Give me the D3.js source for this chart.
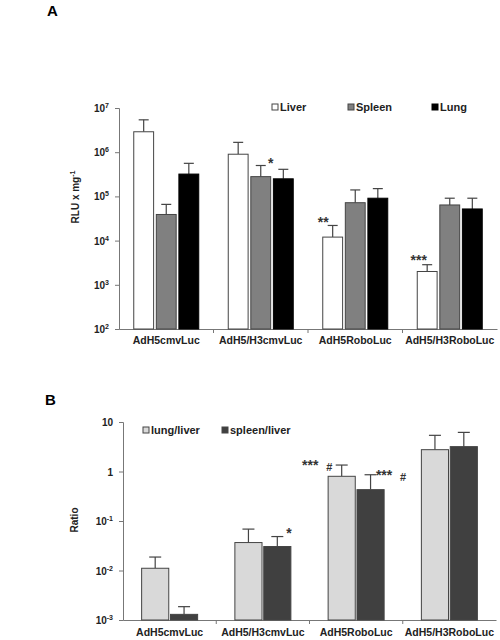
<!DOCTYPE html>
<html><head><meta charset="utf-8">
<script src="https://cdn.jsdelivr.net/npm/d3@7"></script>
<style>
body{margin:0;background:#fff;}
svg{display:block;font-family:"Liberation Sans",Arial,sans-serif;}
</style></head><body>
<svg id="c" width="500" height="640"></svg>
<script>
// ---- Data panel A ----
const catsA = ["AdH5cmvLuc","AdH5/H3cmvLuc","AdH5RoboLuc","AdH5/H3RoboLuc"];
const seriesA = ["Liver","Spleen","Lung"];
const liverA = [2.9e6, 9.0e5, 1.2e4, 2.0e3];
const liverErrA = [5.4e6, 1.67e6, 2.2e4, 2.85e3];
const spleenA = [3.9e4, 2.8e5, 7.2e4, 6.4e4];
const spleenErrA = [6.6e4, 5.0e5, 1.4e5, 9.1e4];
const lungA = [3.2e5, 2.5e5, 9.1e4, 5.2e4];
const lungErrA = [5.6e5, 4.1e5, 1.5e5, 9.1e4];
const ticksA = [2,3,4,5,6,7]; // exponents of 10
// ---- Data panel B ----
const catsB = ["AdH5cmvLuc","AdH5/H3cmvLuc","AdH5RoboLuc","AdH5/H3RoboLuc"];
const seriesB = ["lung/liver","spleen/liver"];
const lungLiverB = [0.0111, 0.0367, 0.80, 2.76];
const lungLiverErrB = [0.0187, 0.0686, 1.35, 5.38];
const spleenLiverB = [0.0013, 0.0305, 0.43, 3.18];
const spleenLiverErrB = [0.00186, 0.0485, 0.86, 6.17];
const ticksB = [-3,-2,-1,0,1];

const svg = d3.select("#c");
const axisCol = "#777";
const outline = "#444";

function supLabel(sel, base, exp){
  sel.append("tspan").text(base);
  if(exp!==null) sel.append("tspan").attr("dy",-4).attr("font-size",7).text(exp);
}

// ================= Panel A =================
(function(){
  const x0 = 119, x1 = 497, yTop = 108, yBot = 329;
  const y = d3.scaleLog().domain([1e2,1e7]).range([yBot,yTop]);
  const xb = d3.scaleBand().domain(catsA).range([x0,x1]);
  const xs = d3.scaleBand().domain(seriesA).range([0,65]).paddingInner(0.12);
  const fills = {Liver:"#ffffff", Spleen:"#808080", Lung:"#000000"};
  const vals = {Liver:liverA, Spleen:spleenA, Lung:lungA};
  const errs = {Liver:liverErrA, Spleen:spleenErrA, Lung:lungErrA};
  const g = svg.append("g");

  svg.append("text").attr("x",47).attr("y",16).attr("font-size",15).attr("font-weight","bold").text("A");

  const ya = d3.axisLeft(y).tickValues(ticksA.map(e=>Math.pow(10,e))).tickSize(4).tickFormat("");
  const yg = g.append("g").attr("transform",`translate(${x0},0)`).call(ya);
  yg.select(".domain").attr("stroke",axisCol);
  yg.selectAll(".tick line").attr("stroke",axisCol);
  ticksA.forEach(e=>{
    const t = g.append("text").attr("x",109).attr("y",y(Math.pow(10,e))+4)
      .attr("text-anchor","end").attr("font-size",10).attr("font-weight","bold").attr("fill","#222");
    supLabel(t,"10",String(e));
  });
  const xg = g.append("g").attr("transform",`translate(0,${yBot})`)
    .call(d3.axisBottom(xb).tickSize(0).tickFormat(""));
  xg.select(".domain").attr("stroke",axisCol);
  catsA.slice(1).forEach(c=>{
    g.append("line").attr("x1",xb(c)).attr("x2",xb(c)).attr("y1",yBot).attr("y2",yBot+4).attr("stroke",axisCol);
  });
  catsA.forEach(c=>{
    g.append("text").attr("x",xb(c)+xb.bandwidth()/2).attr("y",344).attr("text-anchor","middle")
      .attr("font-size",10.5).attr("font-weight","bold").attr("fill","#222").text(c);
  });
  catsA.forEach((c,i)=>{
    const gx = xb(c)+(xb.bandwidth()-65)/2;
    seriesA.forEach(s=>{
      const bx = gx+xs(s), bw = xs.bandwidth();
      const v = vals[s][i], ev = errs[s][i];
      g.append("line").attr("x1",bx+bw/2).attr("x2",bx+bw/2).attr("y1",y(v)).attr("y2",y(ev)).attr("stroke",outline).attr("stroke-width",1.2);
      g.append("line").attr("x1",bx+bw/2-5).attr("x2",bx+bw/2+5).attr("y1",y(ev)).attr("y2",y(ev)).attr("stroke",outline).attr("stroke-width",1.2);
      g.append("rect").attr("x",bx).attr("y",y(v)).attr("width",bw).attr("height",yBot-y(v))
        .attr("fill",fills[s]).attr("stroke",s==="Lung"?"#000":outline).attr("stroke-width",1);
    });
  });
  const ann = [
    {cat:1, s:"Spleen", t:"*", dx:10, dy:2},
    {cat:2, s:"Liver", t:"**", dx:-9.5, dy:2},
    {cat:3, s:"Liver", t:"***", dx:-8.5, dy:0}
  ];
  ann.forEach(a=>{
    const c = catsA[a.cat];
    const gx = xb(c)+(xb.bandwidth()-65)/2;
    const bx = gx+xs(a.s)+xs.bandwidth()/2 + a.dx;
    const ev = errs[a.s][a.cat];
    g.append("text").attr("x",bx).attr("y",y(ev)+a.dy).attr("text-anchor","middle")
      .attr("font-size",14).attr("font-weight","bold").attr("fill","#333").text(a.t);
  });
  const lx = [272,348,432];
  seriesA.forEach((s,i)=>{
    g.append("rect").attr("x",lx[i]).attr("y",104).attr("width",6).attr("height",6)
      .attr("fill",fills[s]).attr("stroke",s==="Lung"?"#000":outline);
    g.append("text").attr("x",lx[i]+8).attr("y",111).attr("font-size",11).attr("font-weight","bold").attr("fill","#222").text(s);
  });
  const yl = g.append("text").attr("transform","translate(79,197) rotate(-90)").attr("text-anchor","middle")
    .attr("font-size",10).attr("font-weight","bold").attr("fill","#222");
  yl.append("tspan").text("RLU x mg");
  yl.append("tspan").attr("dy",-4).attr("font-size",7).text("-1");
})();

// ================= Panel B =================
(function(){
  const x0 = 123, x1 = 496, yTop = 422, yBot = 620;
  const y = d3.scaleLog().domain([1e-3,10]).range([yBot,yTop]);
  const xb = d3.scaleBand().domain(catsB).range([x0,x1]);
  const xs = d3.scaleBand().domain(seriesB).range([0,56]).paddingInner(0.06);
  const fills = {"lung/liver":"#d9d9d9","spleen/liver":"#404040"};
  const vals = {"lung/liver":lungLiverB,"spleen/liver":spleenLiverB};
  const errs = {"lung/liver":lungLiverErrB,"spleen/liver":spleenLiverErrB};
  const g = svg.append("g");

  svg.append("text").attr("x",45).attr("y",405).attr("font-size",15).attr("font-weight","bold").text("B");

  const ya = d3.axisLeft(y).tickValues(ticksB.map(e=>Math.pow(10,e))).tickSize(4).tickFormat("");
  const yg = g.append("g").attr("transform",`translate(${x0},0)`).call(ya);
  yg.select(".domain").attr("stroke",axisCol);
  yg.selectAll(".tick line").attr("stroke",axisCol);
  ticksB.forEach(e=>{
    const t = g.append("text").attr("x",113).attr("y",y(Math.pow(10,e))+4)
      .attr("text-anchor","end").attr("font-size",10).attr("font-weight","bold").attr("fill","#222");
    if(e===0) supLabel(t,"1",null);
    else if(e===1) supLabel(t,"10",null);
    else supLabel(t,"10",String(e));
  });
  const xg = g.append("g").attr("transform",`translate(0,${yBot})`)
    .call(d3.axisBottom(xb).tickSize(0).tickFormat(""));
  xg.select(".domain").attr("stroke",axisCol);
  catsB.slice(1).forEach(c=>{
    g.append("line").attr("x1",xb(c)).attr("x2",xb(c)).attr("y1",yBot).attr("y2",yBot+4).attr("stroke",axisCol);
  });
  catsB.forEach(c=>{
    g.append("text").attr("x",xb(c)+xb.bandwidth()/2).attr("y",636).attr("text-anchor","middle")
      .attr("font-size",10.5).attr("font-weight","bold").attr("fill","#222").text(c);
  });
  catsB.forEach((c,i)=>{
    const gx = xb(c)+(xb.bandwidth()-56)/2;
    seriesB.forEach(s=>{
      const bx = gx+xs(s), bw = xs.bandwidth();
      const v = vals[s][i], ev = errs[s][i];
      g.append("line").attr("x1",bx+bw/2).attr("x2",bx+bw/2).attr("y1",y(v)).attr("y2",y(ev)).attr("stroke",outline).attr("stroke-width",1.2);
      g.append("line").attr("x1",bx+bw/2-6).attr("x2",bx+bw/2+6).attr("y1",y(ev)).attr("y2",y(ev)).attr("stroke",outline).attr("stroke-width",1.2);
      g.append("rect").attr("x",bx).attr("y",y(v)).attr("width",bw).attr("height",yBot-y(v))
        .attr("fill",fills[s]).attr("stroke",outline).attr("stroke-width",1);
    });
  });
  const ann = [
    {cat:1, s:"spleen/liver", t:"*", dx:11.7, dy:1, fs:14},
    {cat:2, s:"lung/liver", t:"***", dx:-31.4, dy:4.5, fs:14},
    {cat:2, s:"lung/liver", t:"#", dx:-12.4, dy:6, fs:11},
    {cat:2, s:"spleen/liver", t:"***", dx:13.5, dy:4.8, fs:14},
    {cat:2, s:"spleen/liver", t:"#", dx:32.5, dy:6.3, fs:11}
  ];
  ann.forEach(a=>{
    const c = catsB[a.cat];
    const gx = xb(c)+(xb.bandwidth()-56)/2;
    const bx = gx+xs(a.s)+xs.bandwidth()/2 + a.dx;
    const ev = errs[a.s][a.cat];
    g.append("text").attr("x",bx).attr("y",y(ev)+a.dy).attr("text-anchor","middle")
      .attr("font-size",a.fs).attr("font-weight","bold").attr("fill","#333").text(a.t);
  });
  const lx = [143,222];
  seriesB.forEach((s,i)=>{
    g.append("rect").attr("x",lx[i]).attr("y",427).attr("width",6).attr("height",6)
      .attr("fill",fills[s]).attr("stroke",outline);
    g.append("text").attr("x",lx[i]+8).attr("y",434).attr("font-size",11).attr("font-weight","bold").attr("fill","#222").text(s);
  });
  g.append("text").attr("transform","translate(78,520) rotate(-90)").attr("text-anchor","middle")
    .attr("font-size",10).attr("font-weight","bold").attr("fill","#222").text("Ratio");
})();
</script>
</body></html>
